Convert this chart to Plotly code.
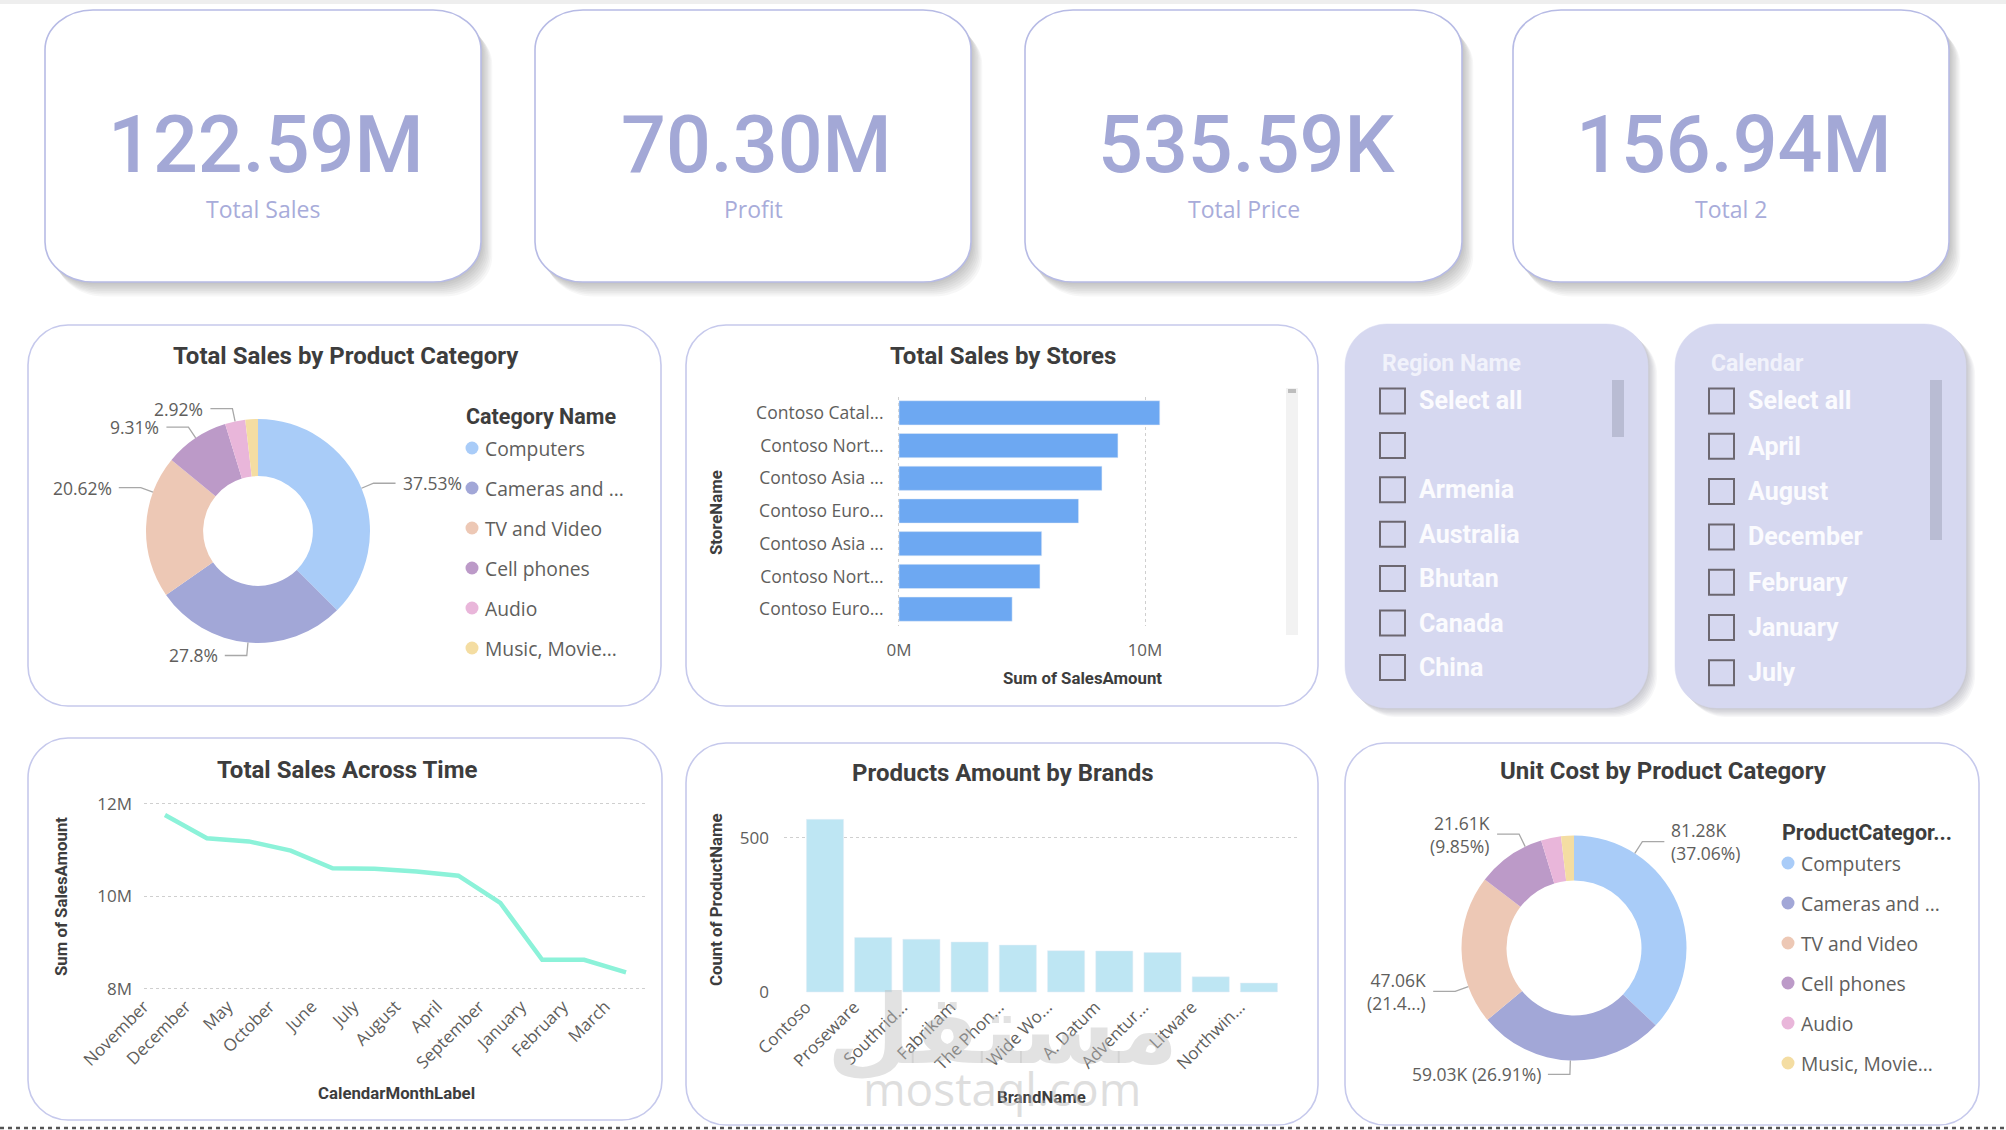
import math
import plotly.graph_objects as go

W, H = 2006, 1130

# ---------------- data ----------------
kpi_labels = ["Total Sales", "Profit", "Total Price", "Total 2"]
kpi_values = [122.59e6, 70.30e6, 535.59e3, 156.94e6]

categories = ["Computers", "Cameras and camcorders", "TV and Video",
              "Cell phones", "Audio", "Music, Movies and Audio Books"]
sales_share_pct = [37.53, 27.80, 20.62, 9.31, 2.92, 1.82]
unit_cost = [81.28e3, 59.03e3, 47.06e3, 21.61e3, 6.30e3, 4.05e3]

stores = ["Contoso Catalog Store", "Contoso North America Online Store",
          "Contoso Asia Online Store", "Contoso Europe Online Store",
          "Contoso Asia Reseller", "Contoso North America Reseller",
          "Contoso Europe Reseller"]
store_tick_labels = ["Contoso Catal...", "Contoso Nort...", "Contoso Asia ...",
                     "Contoso Euro...", "Contoso Asia ...", "Contoso Nort...",
                     "Contoso Euro..."]
store_sales = [10.60e6, 8.90e6, 8.25e6, 7.30e6, 5.80e6, 5.73e6, 4.60e6]
store_axis_ticks = [0, 10e6]
store_axis_labels = ["0M", "10M"]

months = ["November", "December", "May", "October", "June", "July",
          "August", "April", "September", "January", "February", "March"]
month_sales = [11.76e6, 11.26e6, 11.19e6, 10.99e6, 10.61e6, 10.60e6,
               10.54e6, 10.45e6, 9.86e6, 8.63e6, 8.63e6, 8.36e6]
month_axis_ticks = [8e6, 10e6, 12e6]
month_axis_labels = ["8M", "10M", "12M"]

brands = ["Contoso", "Proseware", "Southridge Video", "Fabrikam",
          "The Phone Company", "Wide World Importers", "A. Datum",
          "Adventure Works", "Litware", "Northwind Traders"]
brand_tick_labels = ["Contoso", "Proseware", "Southrid...", "Fabrikam",
                     "The Phon...", "Wide Wo...", "A. Datum", "Adventur...",
                     "Litware", "Northwin..."]
brand_product_counts = [560, 177, 171, 162, 152, 134, 133, 128, 49, 29]
brand_axis_ticks = [0, 500]

region_items = ["Select all", "", "Armenia", "Australia", "Bhutan", "Canada", "China"]
calendar_items = ["Select all", "April", "August", "December", "February", "January", "July"]

# ---------------- styles ----------------
pie_colors = ["#A9CCF8", "#A2A7D7", "#EDC8B5", "#BC9AC8", "#E9B6DA", "#F4DDA2"]
BODY = "Open Sans, Noto Sans, sans-serif"
HEAD = "Roboto, sans-serif"
KPI_FONT = "Roboto, sans-serif"
LABEL = "#605E5C"
TITLE = "#3D3D3D"
KPI_COLOR = "#A3A8D6"
PANEL_LINE = "#C6C9EC"


def X(p):
    return p / W


def Y(p):
    return 1 - p / H


shapes, annotations = [], []
KAPPA = 0.5523


def rr_path(x0, y0, x1, y1, rx, ry):
    kx, ky = rx * KAPPA, ry * KAPPA
    parts = [
        f"M {X(x0 + rx)} {Y(y0)}",
        f"L {X(x1 - rx)} {Y(y0)}",
        f"C {X(x1 - rx + kx)} {Y(y0)} {X(x1)} {Y(y0 + ry - ky)} {X(x1)} {Y(y0 + ry)}",
        f"L {X(x1)} {Y(y1 - ry)}",
        f"C {X(x1)} {Y(y1 - ry + ky)} {X(x1 - rx + kx)} {Y(y1)} {X(x1 - rx)} {Y(y1)}",
        f"L {X(x0 + rx)} {Y(y1)}",
        f"C {X(x0 + rx - kx)} {Y(y1)} {X(x0)} {Y(y1 - ry + ky)} {X(x0)} {Y(y1 - ry)}",
        f"L {X(x0)} {Y(y0 + ry)}",
        f"C {X(x0)} {Y(y0 + ry - ky)} {X(x0 + rx - kx)} {Y(y0)} {X(x0 + rx)} {Y(y0)}",
        "Z",
    ]
    return " ".join(parts)


def card(box, r, fill, line_color, line_w, shadow=0, sdx=1.4, sdy=1.8, sop=0.04):
    x0, y0, x1, y1 = box
    rx, ry = r
    for i in range(shadow, 0, -1):
        shapes.append(dict(type="path", xref="paper", yref="paper", layer="below",
                           path=rr_path(x0 + i * sdx, y0 + i * sdy, x1 + i * sdx, y1 + i * sdy, rx, ry),
                           fillcolor=f"rgba(60,60,80,{sop})", line=dict(width=0)))
    shapes.append(dict(type="path", xref="paper", yref="paper", layer="below",
                       path=rr_path(x0, y0, x1, y1, rx, ry), fillcolor=fill,
                       line=dict(color=line_color, width=line_w)))


def text(x, y, s, size, color, family=BODY, weight=400, xanchor="center",
         yanchor="middle", textangle=0, align="center"):
    annotations.append(dict(x=X(x), y=Y(y), xref="paper", yref="paper", text=s,
                            showarrow=False, textangle=textangle, align=align,
                            xanchor=xanchor, yanchor=yanchor,
                            font=dict(family=family, size=size, color=color, weight=weight)))


def rect(x0, y0, x1, y1, fill="rgba(0,0,0,0)", line_color=None, lw=0, layer="above"):
    shapes.append(dict(type="rect", xref="paper", yref="paper", layer=layer,
                       x0=X(x0), x1=X(x1), y0=Y(y1), y1=Y(y0), fillcolor=fill,
                       line=dict(color=line_color or "rgba(0,0,0,0)", width=lw)))


def fmt_short(v):
    if v >= 1e6:
        return f"{v / 1e6:.2f}M"
    return f"{v / 1e3:.2f}K"


def fmt_pct(p):
    return f"{p:.2f}".rstrip("0").rstrip(".") + "%"


def trunc(s, n):
    return s if len(s) <= n else s[:n] + "..."


# ---------------- background bits ----------------
rect(0, 0, W, 4, fill="#EEEEEE", layer="below")
shapes.append(dict(type="line", xref="paper", yref="paper", x0=0, x1=1, y0=Y(1128), y1=Y(1128),
                   line=dict(color="#555555", width=2.5, dash="4px,4px"), layer="above"))

# ---------------- KPI cards ----------------
kpi_boxes = [(45, 10, 481, 282), (535, 10, 971, 282), (1025, 10, 1462, 282), (1513, 10, 1949, 282)]
for box, val, lab in zip(kpi_boxes, kpi_values, kpi_labels):
    card(box, (48, 40), "white", "#B7BBE5", 1.6, shadow=8, sop=0.045)
    cx = (box[0] + box[2]) / 2
    text(cx + 3, 145, fmt_short(val), 79, KPI_COLOR, family=KPI_FONT, weight=500)
    text(cx, 209, lab, 23, "#A8ACDA", family=BODY)

# ---------------- panels ----------------
panel_boxes = [(28, 325, 661, 706), (686, 325, 1318, 706), (28, 738, 662, 1120),
               (686, 743, 1318, 1125), (1345, 743, 1979, 1125)]
for b in panel_boxes:
    card(b, (40, 40), "white", PANEL_LINE, 1.6)

# slicers
slicer_boxes = [(1345, 324, 1648, 708), (1675, 324, 1966, 708)]
for b in slicer_boxes:
    card(b, (42, 42), "#D6D8F0", "#D6D8F0", 0.5, shadow=7, sdx=1.3, sdy=1.3)

# titles
TS = 24
text(346, 356, "Total Sales by Product Category", TS, TITLE, family=HEAD, weight=700)
text(1003, 356, "Total Sales by Stores", TS, TITLE, family=HEAD, weight=700)
text(347, 770, "Total Sales Across Time", TS, TITLE, family=HEAD, weight=700)
text(1003, 773, "Products Amount by Brands", TS, TITLE, family=HEAD, weight=700)
text(1663, 771, "Unit Cost by Product Category", TS, TITLE, family=HEAD, weight=700)

# ---------------- donuts ----------------
fig = go.Figure()


def donut(cx, cy, R, hole, values):
    fig.add_trace(go.Pie(values=values, labels=categories, sort=False, direction="clockwise",
                         rotation=0, hole=hole, textinfo="none", hoverinfo="skip",
                         marker=dict(colors=pie_colors, line=dict(width=0)),
                         domain=dict(x=[X(cx - R), X(cx + R)], y=[Y(cy + R), Y(cy - R)]),
                         showlegend=False))


def donut_labels(cx, cy, R, values, texts, offsets, ext=13, seg=22, gap=5, size=17.5):
    total = sum(values)
    cum = 0
    for v, t, off in zip(values, texts, offsets):
        mid = (cum + v / 2) / total * 360
        cum += v
        if t is None:
            continue
        a = math.radians(mid + off)
        s, c = math.sin(a), math.cos(a)
        p0x, p0y = cx + R * s, cy - R * c
        ex, ey = cx + (R + ext) * s, cy - (R + ext) * c
        side = 1 if s >= 0 else -1
        hx = ex + side * seg
        shapes.append(dict(type="path", xref="paper", yref="paper", layer="above",
                           path=f"M {X(p0x)} {Y(p0y)} L {X(ex)} {Y(ey)} L {X(hx)} {Y(ey)}",
                           fillcolor="rgba(0,0,0,0)", line=dict(color="#A8A8A8", width=1.3)))
        text(hx + side * gap, ey, t, size, LABEL,
             xanchor="left" if side > 0 else "right", align="left" if side > 0 else "right")


def legend(x, y_title, y0, step, title):
    text(x - 8, y_title, title, 21.5, TITLE, family=HEAD, weight=700, xanchor="left")
    for i, (cat, col) in enumerate(zip(categories, pie_colors)):
        yy = y0 + i * step
        shapes.append(dict(type="circle", xref="paper", yref="paper", layer="above",
                           x0=X(x - 6.5), x1=X(x + 6.5), y0=Y(yy + 6.5), y1=Y(yy - 6.5),
                           fillcolor=col, line=dict(width=0)))
        text(x + 11, yy, trunc(cat, 12), 19.3, LABEL, xanchor="left")


# donut 1: total sales share
donut(258, 531, 112, 0.49, sales_share_pct)
pie1_texts = [fmt_pct(p) for p in sales_share_pct[:5]] + [None]
donut_labels(258, 531, 112, sales_share_pct, pie1_texts, [0, 0, 18, 0, 0, 0])
legend(472, 416, 448, 40, "Category Name")

# donut 2: unit cost
donut(1574, 948, 112.5, 0.6, unit_cost)
uc_total = sum(unit_cost)
pie2_layout = ["two", "one", "two", "two", None, None]
pie2_trunc = [None, None, 5, None, None, None]
pie2_texts = []
for v, lay, tr in zip(unit_cost, pie2_layout, pie2_trunc):
    if lay is None:
        pie2_texts.append(None)
        continue
    pct = f"({v / uc_total * 100:.2f}%)"
    if tr:
        pct = pct[:tr] + "...)"
    sep = "<br>" if lay == "two" else " "
    pie2_texts.append(fmt_short(v) + sep + pct)
donut_labels(1574, 948, 112.5, unit_cost, pie2_texts, [-34, 0, -19, 9, 0, 0], ext=14)
legend(1788, 832, 863, 40, trunc("ProductCategoryName", 14))

# ---------------- stores bar ----------------
fig.add_trace(go.Bar(x=store_sales, y=stores, orientation="h", marker_color="#6DA8F2",
                     width=0.74, hoverinfo="skip", xaxis="x", yaxis="y"))

# ---------------- line ----------------
fig.add_trace(go.Scatter(x=months, y=month_sales, mode="lines", hoverinfo="skip",
                         line=dict(color="#8CF2D9", width=4.5), xaxis="x2", yaxis="y2"))

# ---------------- brands bar ----------------
fig.add_trace(go.Bar(x=brands, y=brand_product_counts, marker_color="#BEE6F3", width=0.77,
                     hoverinfo="skip", xaxis="x3", yaxis="y3"))

tick_font = dict(family=BODY, size=17, color=LABEL)
grid = dict(showgrid=True, gridcolor="#CFCFCF", gridwidth=1.2, griddash="dot",
            zeroline=False, showline=False, ticks="", automargin=False)
nogrid = dict(showgrid=False, zeroline=False, showline=False, ticks="", automargin=False)

fig.update_layout(
    xaxis=dict(domain=[X(897.5), X(1206.5)], range=[-0.06e6, 12.5e6], tickvals=store_axis_ticks,
               ticktext=store_axis_labels, tickfont=tick_font, ticklabelstandoff=12, **grid),
    yaxis=dict(domain=[Y(625.5), Y(396.5)], type="category", categoryorder="array",
               categoryarray=stores, range=[len(stores) - 0.5, -0.5], tickvals=stores,
               ticktext=store_tick_labels, tickfont=dict(family=BODY, size=17.5, color=LABEL),
               ticklabelstandoff=13, **nogrid),
    xaxis2=dict(domain=[X(144), X(647)], type="category", range=[-0.5, len(months) - 0.5],
                tickangle=-45, tickfont=tick_font, anchor="y2", ticklabelstandoff=1,
                ticklabelshift=-21, **nogrid),
    yaxis2=dict(domain=[Y(991.3), Y(797)], range=[7.95e6, 12.15e6], tickvals=month_axis_ticks,
                ticktext=month_axis_labels, tickfont=tick_font, anchor="x2",
                ticklabelstandoff=11, **grid),
    xaxis3=dict(domain=[X(784), X(1298)], type="category", range=[-0.85, 9.81],
                tickvals=brands, ticktext=brand_tick_labels, tickangle=-45, tickfont=tick_font,
                anchor="y3", ticklabelstandoff=0, ticklabelshift=-19, **nogrid),
    yaxis3=dict(domain=[Y(992.9), Y(807)], range=[-3, 600], tickvals=brand_axis_ticks,
                tickfont=tick_font, anchor="x3", ticklabelstandoff=14, **grid),
)

# axis titles
AS = 16.8
text(716, 513, "StoreName", AS, TITLE, family=HEAD, weight=700, textangle=-90)
text(1082, 678, "Sum of SalesAmount", AS, TITLE, family=HEAD, weight=700)
text(61, 897, "Sum of SalesAmount", AS, TITLE, family=HEAD, weight=700, textangle=-90)
text(396, 1093, "CalendarMonthLabel", AS, TITLE, family=HEAD, weight=700)
text(716, 900, "Count of ProductName", AS, TITLE, family=HEAD, weight=700, textangle=-90)
text(1041, 1097, "BrandName", AS, TITLE, family=HEAD, weight=700)

# stores scrollbar
rect(1286, 388, 1298, 635, fill="#F2F2F2")
rect(1288, 389, 1296, 393, fill="#BDBDBD")

# ---------------- slicers ----------------
def slicer(x_box, header, items, y0, step, sb):
    text(x_box, 363, header, 23, "#F1F2FB", family=HEAD, weight=700, xanchor="left")
    for i, it in enumerate(items):
        yy = y0 + i * step
        rect(x_box, yy - 12.5, x_box + 25, yy + 12.5, line_color="#6C6770", lw=2)
        if it:
            text(x_box + 37, yy, it, 25, "#FBFBFE", family=HEAD, weight=700, xanchor="left")
    rect(*sb, fill="#B9BCD3")


slicer(1380, "Region Name", region_items, 401, 44.4, (1612, 380, 1624, 437))
slicer(1709, "Calendar", calendar_items, 401, 45.3, (1930, 380, 1942, 540))

# watermark
text(1002, 1030, "مستقل", 96, "rgba(190,190,190,0.45)", family="DejaVu Sans, sans-serif", weight=700)
text(1002, 1088, "mostaql.com", 46, "rgba(190,190,190,0.5)", family=BODY)

fig.update_layout(width=W, height=H, margin=dict(l=0, r=0, t=0, b=0, pad=0, autoexpand=False),
                  autosize=False, paper_bgcolor="white", plot_bgcolor="rgba(0,0,0,0)",
                  showlegend=False, hovermode=False, shapes=shapes, annotations=annotations,
                  bargap=0.25)

fig.write_html("out.html")
